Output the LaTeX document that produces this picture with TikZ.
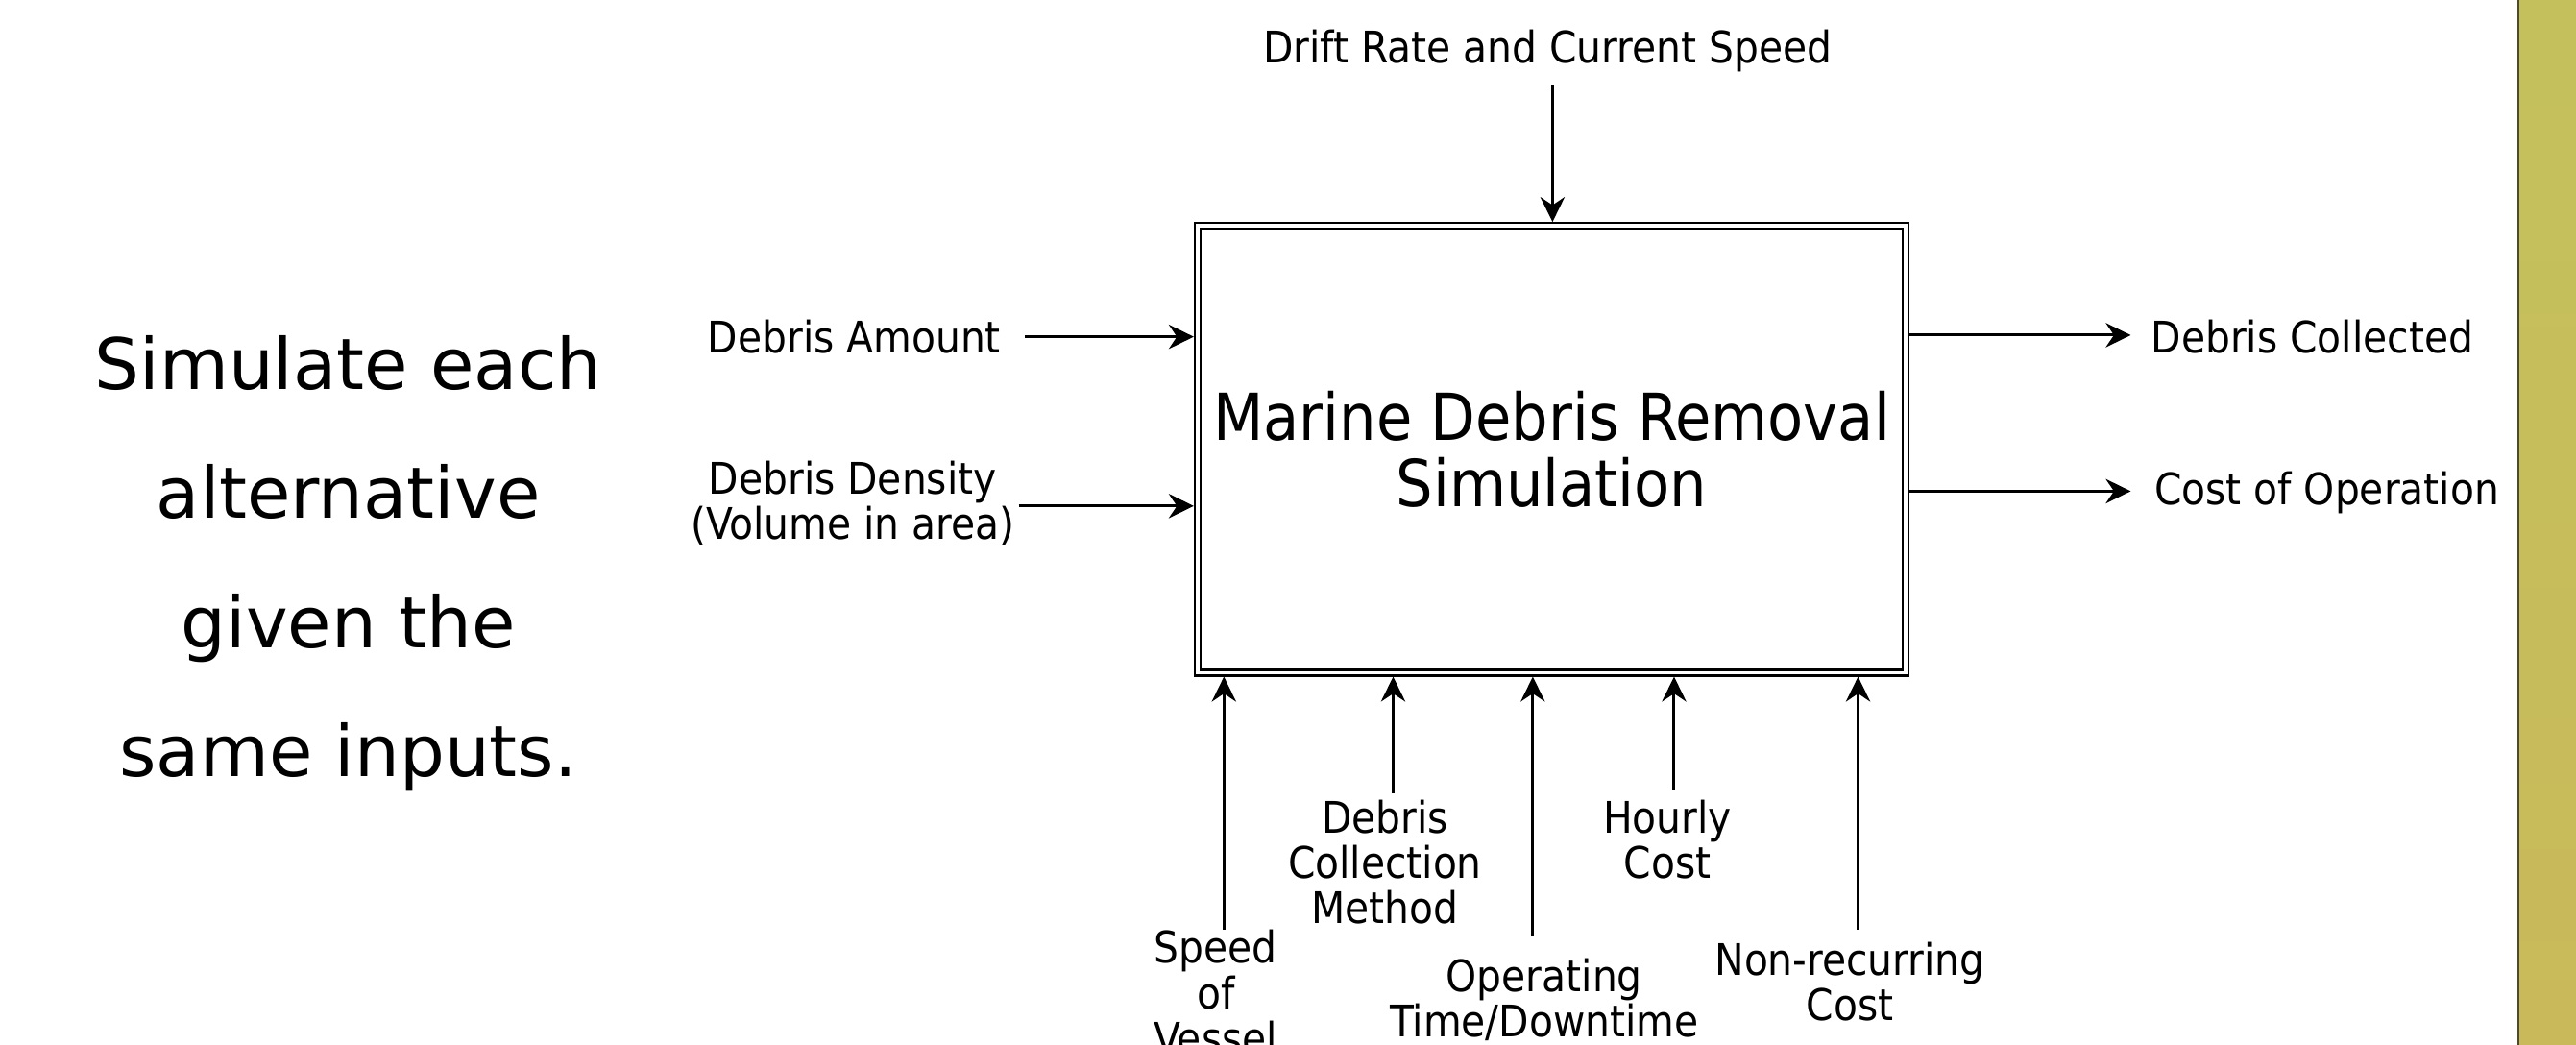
\documentclass[tikz,border=0pt]{standalone}
\usepackage{fontspec}
\usetikzlibrary{arrows.meta}
\IfFontExistsTF{DejaVu Sans Condensed}
  {\newfontfamily\condfont{DejaVu Sans Condensed}}
  {\newfontfamily\condfont[FakeStretch=0.9]{DejaVu Sans}}
\newfontfamily\widefont{DejaVu Sans}
\definecolor{bartop}{HTML}{C4C15C}
\definecolor{barbot}{HTML}{C9B95A}
\definecolor{baredge}{HTML}{4A4A30}
\tikzset{
  lbl/.style={font=\condfont\fontsize{12.9}{13.4}\selectfont, inner sep=0pt, align=center},
  flow/.style={-{Stealth[length=7.4pt,width=7.2pt,inset=2.4pt]}, line width=0.85pt},
  mainbox/.style={draw, double=white, line width=0.6pt, double distance=1.1pt,
    minimum width=7.372cm, minimum height=4.653cm, inner sep=0pt, outer sep=1.15pt,
    align=center, font=\condfont\fontsize{19.2}{19.6}\selectfont},
  note/.style={font=\widefont\fontsize{21}{38.3}\selectfont, inner sep=0pt, align=center}
}
\begin{document}
\begin{tikzpicture}[x=0.017105cm, y=-0.017105cm]
\useasboundingbox (0,0) rectangle (1568,636);
\fill[white] (0,0) rectangle (1568,636);

% side bar
\shade[top color=bartop, bottom color=barbot] (1533,0) rectangle (1568,636);
\draw[baredge, line width=0.6pt] (1533,0) -- (1533,636);

% caption on the left
\node[note] (cap) at (212,343) {Simulate each\\alternative\\given the\\same inputs.};

% activity box
\node[mainbox] (box) at (944.5,273.5) {Marine Debris Removal\\Simulation};

% control from above
\node[lbl] (drift) at (942,31) {Drift Rate and Current Speed};
\coordinate (c1) at (945,52);
\draw[flow] (c1) -- (c1 |- box.north);

% inputs
\node[lbl] (amt) at (520,205) {Debris Amount};
\node[lbl] (dens) at (519,306) {Debris Density\\(Volume in area)};
\coordinate (i1) at (624,205);
\coordinate (i2) at (dens.east |- 0,308);
\draw[flow] (i1) -- (i1 -| box.west);
\draw[flow] ([xshift=1pt]i2) -- (i2 -| box.west);

% outputs
\node[lbl, anchor=west] (coll) at (1309,205) {Debris Collected};
\node[lbl, anchor=west] (cost) at (1311,300) {Cost of Operation};
\coordinate (o1) at (1297,204);
\coordinate (o2) at (1297,299);
\draw[flow] (o1 -| box.east) -- (o1);
\draw[flow] (o2 -| box.east) -- (o2);

% mechanisms from below
\node[lbl] (spd) at (740,604) {Speed\\of\\Vessel};
\node[lbl] (meth) at (843,525) {Debris\\Collection\\Method};
\node[lbl] (optime) at (940,608.5) {Operating\\Time/Downtime};
\node[lbl] (hour) at (1015,511) {Hourly\\Cost};
\node[lbl] (nonrec) at (1126,597.5) {Non-recurring\\Cost};
\coordinate (m1) at (745,566);
\coordinate (m2) at (848,483);
\coordinate (m3) at (933,570);
\coordinate (m4) at (1019,481);
\coordinate (m5) at (1131,566);
\foreach \m in {m1,m2,m3,m4,m5}
  \draw[flow] (\m) -- (\m |- box.south);
\end{tikzpicture}
\end{document}
